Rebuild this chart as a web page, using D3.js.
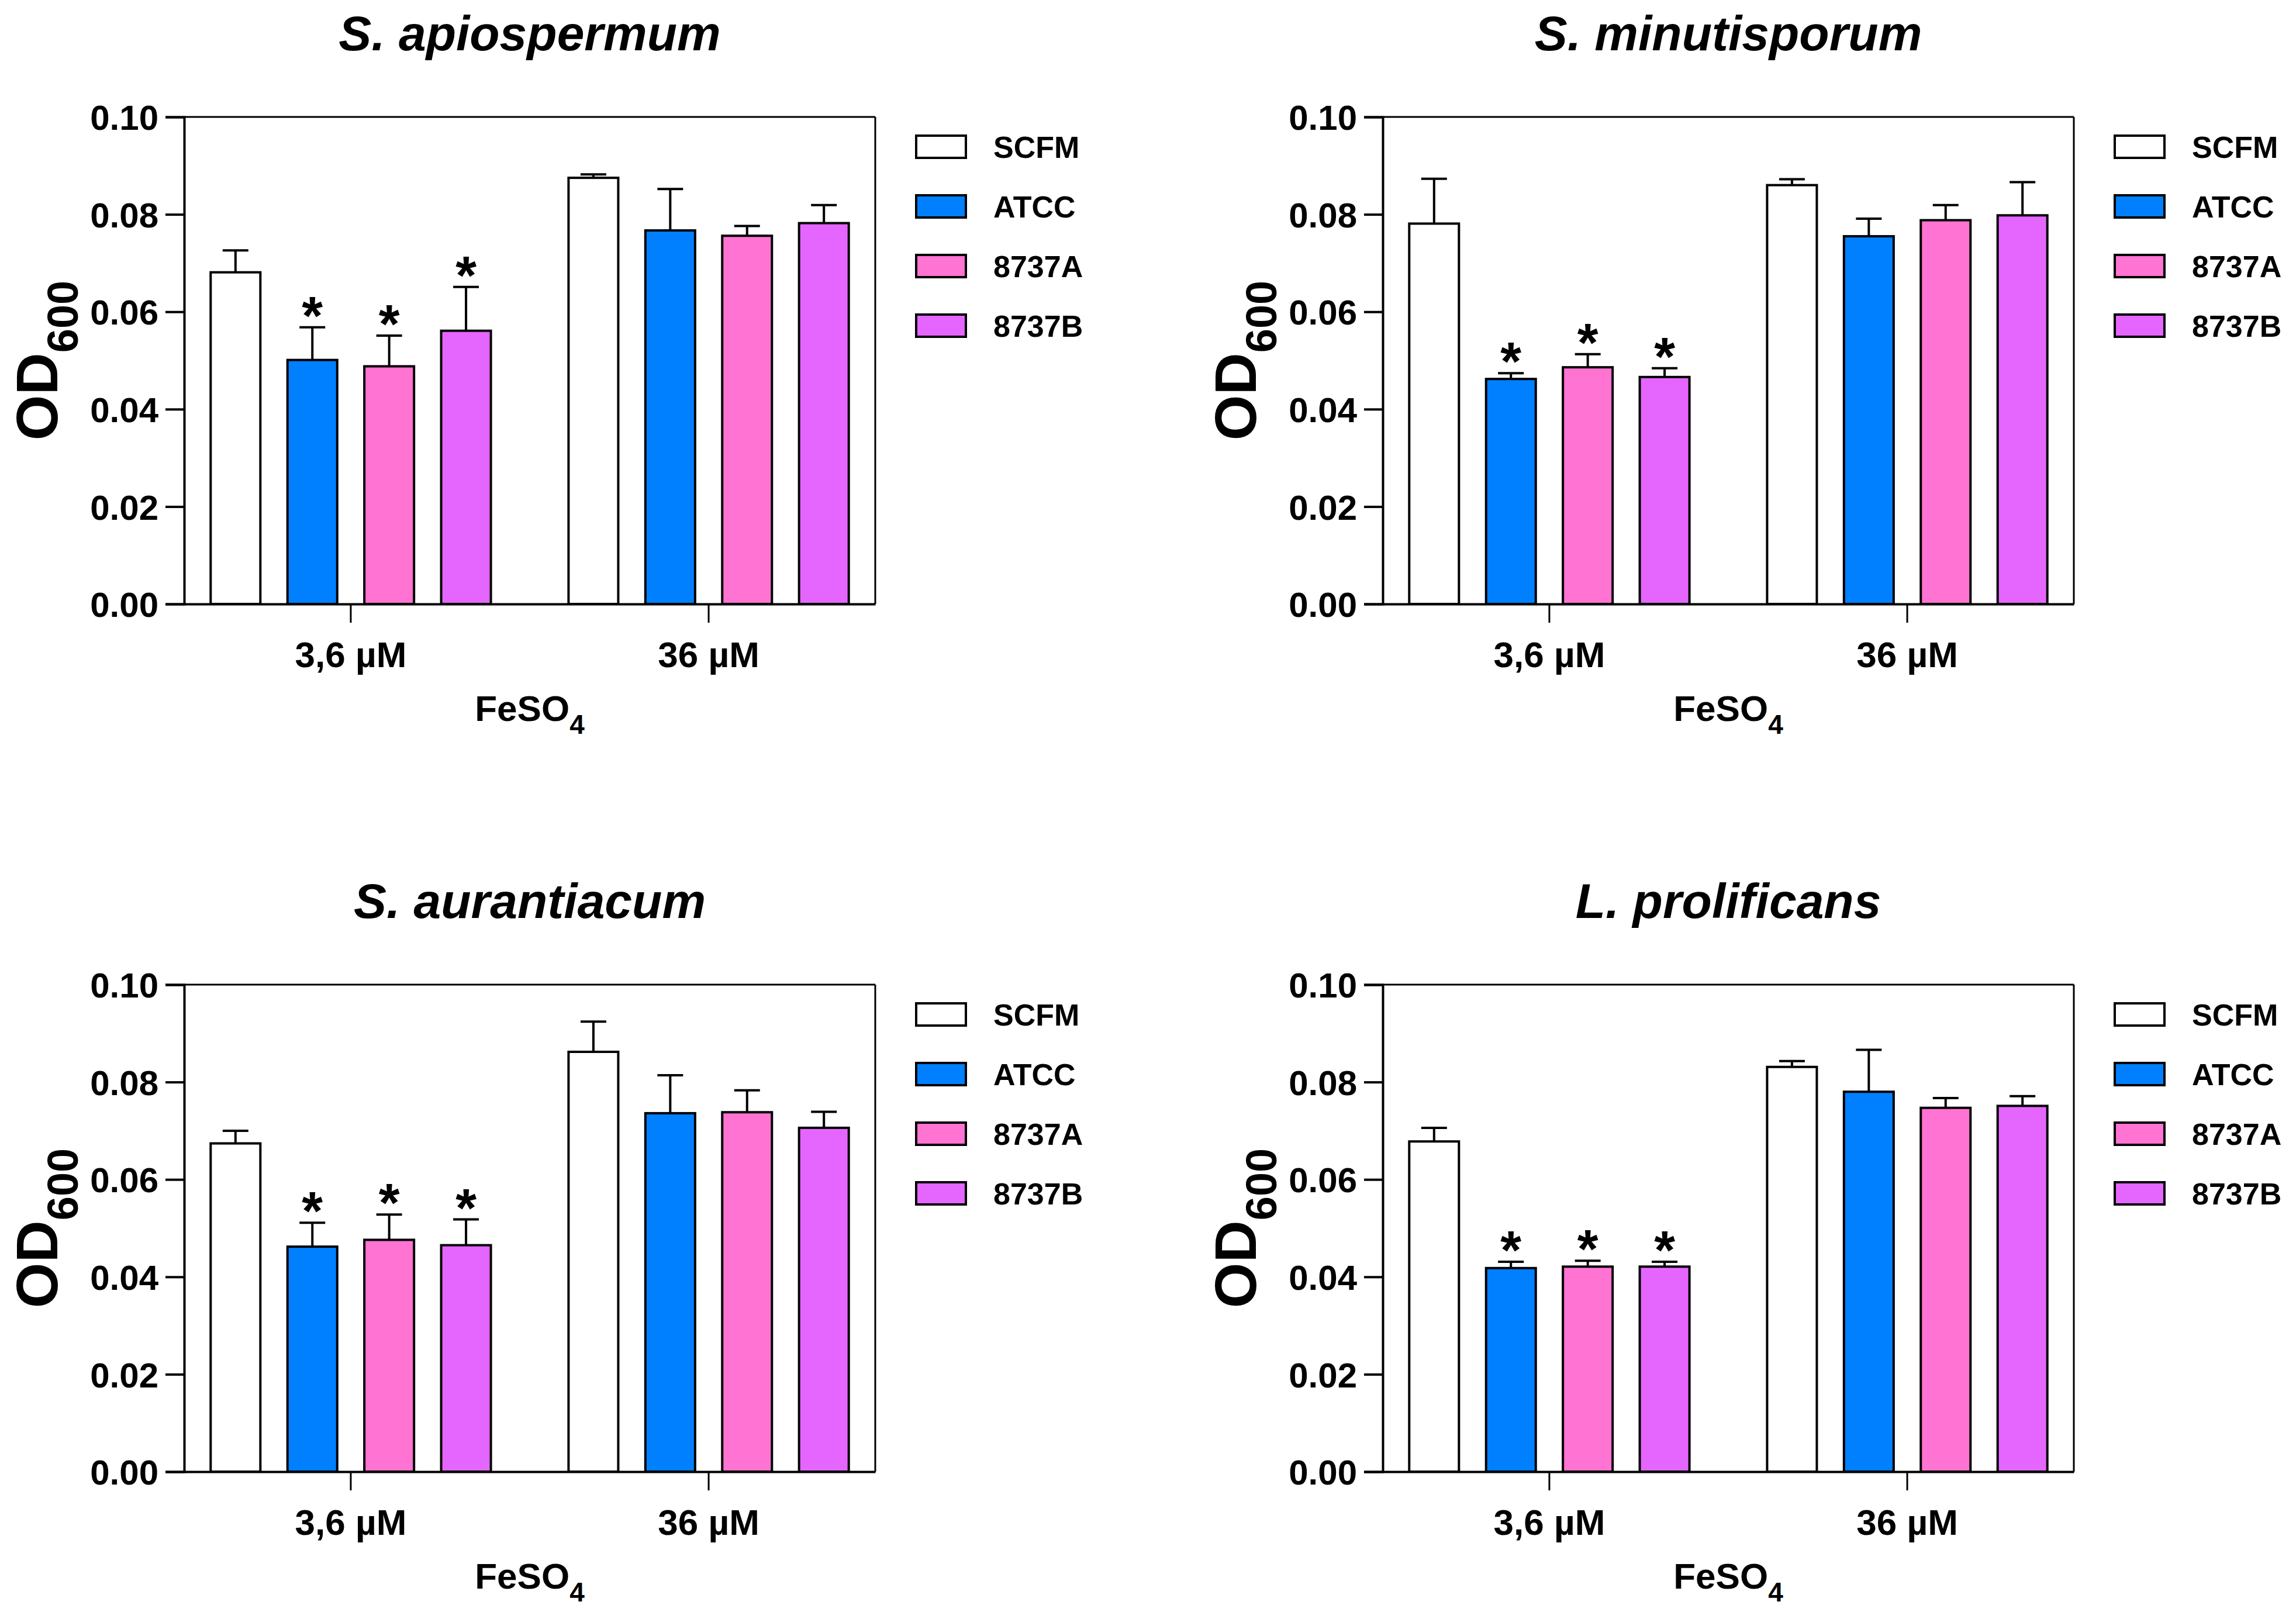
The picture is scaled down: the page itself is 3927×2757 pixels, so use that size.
<!DOCTYPE html>
<html>
<head>
<meta charset="utf-8">
<script src="https://cdn.jsdelivr.net/npm/d3@7"></script>
<style>
  body { margin: 0; background: #fff; }
  text { font-family: "Liberation Sans", Arial, sans-serif; font-weight: bold; fill: #000; }
</style>
</head>
<body>
<div id="chart"></div>
<script>
// categories
var doses = ["3,6 µM", "36 µM"];
var strains = ["SCFM", "ATCC", "8737A", "8737B"];
var species = ["S. apiospermum", "S. minutisporum", "S. aurantiacum", "L. prolificans"];
var yTicks = [0, 0.02, 0.04, 0.06, 0.08, 0.10];

// mean OD600, one row per dose, one value per strain
var apioMean = [[0.0681, 0.0501, 0.0488, 0.0561], [0.0875, 0.0767, 0.0756, 0.0782]];
var apioSd   = [[0.0045, 0.0067, 0.0063, 0.0090], [0.0007, 0.0085, 0.0020, 0.0037]];
var minuMean = [[0.0781, 0.0462, 0.0486, 0.0466], [0.0860, 0.0755, 0.0788, 0.0798]];
var minuSd   = [[0.0092, 0.0012, 0.0027, 0.0018], [0.0012, 0.0036, 0.0031, 0.0068]];
var aurMean  = [[0.0674, 0.0462, 0.0476, 0.0465], [0.0862, 0.0736, 0.0738, 0.0706]];
var aurSd    = [[0.0026, 0.0049, 0.0052, 0.0053], [0.0062, 0.0078, 0.0045, 0.0033]];
var proMean  = [[0.0678, 0.0418, 0.0421, 0.0421], [0.0831, 0.0780, 0.0747, 0.0751]];
var proSd    = [[0.0028, 0.0013, 0.0012, 0.0010], [0.0012, 0.0086, 0.0020, 0.0020]];

// significance marks (*), same for all four species
var signif = [[false, true, true, true], [false, false, false, false]];

var colors = ["#ffffff", "#0080ff", "#ff73d2", "#e566ff"];

var panels = [
    {title: species[0], mean: apioMean, sd: apioSd, dx: 0,    dy: 0},
    {title: species[1], mean: minuMean, sd: minuSd, dx: 2050, dy: 0},
    {title: species[2], mean: aurMean,  sd: aurSd,  dx: 0,    dy: 1484},
    {title: species[3], mean: proMean,  sd: proSd,  dx: 2050, dy: 1484}
];

var margin = {left: 315, top: 200};
var width = 1182, height = 833;

var svg = d3.select("#chart").append("svg")
    .attr("width", 3927)
    .attr("height", 2757);

var x0 = d3.scaleBand().domain(doses).range([0, width])
    .paddingInner(0.217).paddingOuter(0.074);
var x1 = d3.scaleBand().domain(strains).range([0, x0.bandwidth()])
    .paddingInner(0.353).paddingOuter(0);
var y = d3.scaleLinear().domain([0, 0.10]).range([height, 0]);

panels.forEach(function(p){
    var g = svg.append("g")
        .attr("transform", "translate(" + (p.dx + margin.left) + "," + (p.dy + margin.top) + ")");

    // title
    g.append("text")
        .attr("x", width / 2)
        .attr("y", -114)
        .attr("text-anchor", "middle")
        .style("font-size", "84px")
        .style("font-style", "italic")
        .text(p.title);

    // frame (top and right)
    g.append("line").attr("x1", 0).attr("x2", width).attr("y1", 0).attr("y2", 0)
        .attr("stroke", "#000").attr("stroke-width", 3);
    g.append("line").attr("x1", width).attr("x2", width).attr("y1", 0).attr("y2", height)
        .attr("stroke", "#000").attr("stroke-width", 3);

    // bars
    var grp = g.selectAll("g.dose")
        .data(doses)
        .enter().append("g")
        .attr("class", "dose")
        .attr("transform", function(d){ return "translate(" + x0(d) + ",0)"; });

    var bars = grp.selectAll("g.bar")
        .data(function(d, i){
            return strains.map(function(s, j){
                return {strain: s, j: j, mean: p.mean[i][j], sd: p.sd[i][j], sig: signif[i][j]};
            });
        })
        .enter().append("g").attr("class", "bar");

    // error bars (upper only)
    bars.append("line")
        .attr("x1", function(d){ return x1(d.strain) + x1.bandwidth() / 2; })
        .attr("x2", function(d){ return x1(d.strain) + x1.bandwidth() / 2; })
        .attr("y1", function(d){ return y(d.mean); })
        .attr("y2", function(d){ return y(d.mean + d.sd); })
        .attr("stroke", "#000").attr("stroke-width", 4);
    bars.append("line")
        .attr("x1", function(d){ return x1(d.strain) + x1.bandwidth() / 2 - 22; })
        .attr("x2", function(d){ return x1(d.strain) + x1.bandwidth() / 2 + 22; })
        .attr("y1", function(d){ return y(d.mean + d.sd); })
        .attr("y2", function(d){ return y(d.mean + d.sd); })
        .attr("stroke", "#000").attr("stroke-width", 4);

    bars.append("rect")
        .attr("x", function(d){ return x1(d.strain); })
        .attr("y", function(d){ return y(d.mean); })
        .attr("width", x1.bandwidth())
        .attr("height", function(d){ return height - y(d.mean); })
        .attr("fill", function(d){ return colors[d.j]; })
        .attr("stroke", "#000")
        .attr("stroke-width", 4);

    bars.filter(function(d){ return d.sig; })
        .append("text")
        .attr("x", function(d){ return x1(d.strain) + x1.bandwidth() / 2; })
        .attr("y", function(d){ return y(d.mean + d.sd) + 12; })
        .attr("text-anchor", "middle")
        .style("font-size", "92px")
        .text("*");

    // y axis
    var yAxis = g.append("g")
        .call(d3.axisLeft(y).tickValues(yTicks).tickFormat(d3.format(".2f")).tickSize(32).tickPadding(12));
    yAxis.select(".domain").attr("stroke-width", 4);
    yAxis.selectAll(".tick line").attr("stroke-width", 4);
    yAxis.selectAll(".tick text").style("font-size", "60px").attr("dy", "0.36em");

    // x axis
    var xAxis = g.append("g")
        .attr("transform", "translate(0," + height + ")")
        .call(d3.axisBottom(x0).tickSize(32).tickSizeOuter(0).tickPadding(32));
    xAxis.select(".domain").attr("stroke-width", 4);
    xAxis.selectAll(".tick line").attr("stroke-width", 3);
    xAxis.selectAll(".tick text").style("font-size", "62px");

    // x axis title
    var xt = g.append("text")
        .attr("x", width / 2)
        .attr("y", height + 200)
        .attr("text-anchor", "middle")
        .style("font-size", "62px");
    xt.append("tspan").text("FeSO");
    xt.append("tspan").attr("dy", 22).style("font-size", "46px").text("4");

    // y axis title
    var yt = g.append("text")
        .attr("transform", "translate(" + (-217) + "," + (height / 2) + ") rotate(-90)")
        .attr("text-anchor", "middle")
        .style("font-size", "100px");
    yt.append("tspan").text("OD");
    yt.append("tspan").attr("dy", 35).style("font-size", "74px").text("600");

    // legend
    var leg = g.selectAll("g.legend")
        .data(strains)
        .enter().append("g")
        .attr("class", "legend")
        .attr("transform", function(d, i){ return "translate(" + (width + 70) + "," + (32 + i * 102) + ")"; });
    leg.append("rect")
        .attr("width", 85).attr("height", 38)
        .attr("fill", function(d, i){ return colors[i]; })
        .attr("stroke", "#000").attr("stroke-width", 4);
    leg.append("text")
        .attr("x", 132)
        .attr("y", 19)
        .attr("dy", "0.36em")
        .style("font-size", "52px")
        .text(function(d){ return d; });
});
</script>
</body>
</html>
